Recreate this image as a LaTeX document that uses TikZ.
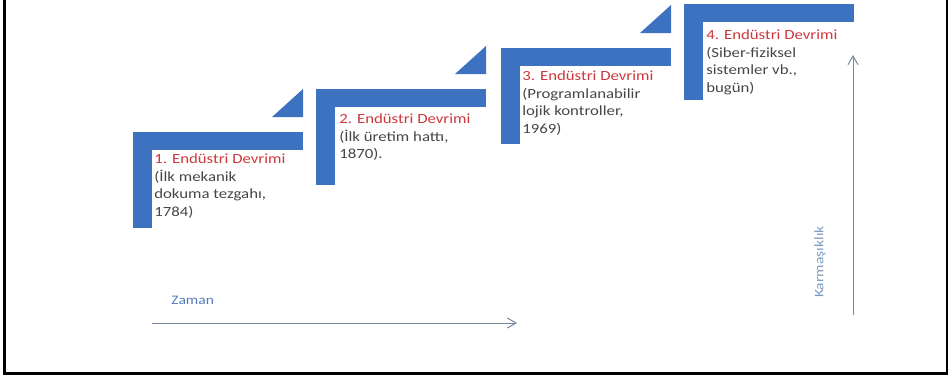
\documentclass[tikz,border=0pt]{standalone}
\usepackage{fontspec}
\setmainfont{Carlito}
\newfontfamily\stepfont[FakeStretch=1.2]{Carlito}
\usepackage{xcolor}
\definecolor{stepblue}{RGB}{60,114,192}
\definecolor{titlered}{RGB}{205,55,60}
\definecolor{notegray}{RGB}{70,70,70}
\definecolor{axisgray}{RGB}{115,135,160}
\definecolor{labelblue}{RGB}{85,122,190}
\definecolor{labelpale}{RGB}{125,155,198}
\usetikzlibrary{arrows.meta}
\tikzset{
  %% stair pieces
  stairbar/.style={fill=stepblue, draw=none},
  %% texts under each stair
  stepnote/.style={anchor=north west, inner sep=0pt, align=left,
    font=\stepfont\fontsize{10.5}{13.1}\selectfont, text=notegray},
  axislabel/.style={inner sep=0pt, font=\stepfont\fontsize{9.75}{11}\selectfont},
  axisarrow/.style={draw=axisgray, line width=0.75pt,
    -{Straight Barb[length=6.5pt,width=7.5pt]}},
}
\newcommand\revtitle[1]{{\color{titlered}#1}}

\begin{document}
\begin{tikzpicture}[x=0.75pt,y=-0.75pt]
\useasboundingbox (0,0) rectangle (949,380);
%% frame, open at the top
\draw[line width=1.9pt] (4.5,0) -- (4.5,373.5) -- (947,373.5) -- (947,0);
%% stairs
\foreach \xo/\yo in {133/132, 316/89, 501/48, 684/4}{
  \fill[stairbar] (\xo,\yo) rectangle ++(170,18);
  \fill[stairbar] (\xo,\yo) rectangle ++(19,96);
}
\foreach \xo/\yo in {133/132, 316/89, 501/48}{
  \fill[stairbar] (\xo+139,\yo-15) -- (\xo+170,\yo-15) -- (\xo+170,\yo-43) -- cycle;
}
%% revolutions
\node[stepnote] (rev1) at (154,154)
  {\revtitle{1. Endüstri Devrimi}\\(İlk mekanik\\dokuma tezgahı,\\1784)};
\node[stepnote] (rev2) at (339,114)
  {\revtitle{2. Endüstri Devrimi}\\(İlk üretim hattı,\\1870).};
\node[stepnote] (rev3) at (522,71)
  {\revtitle{3. Endüstri Devrimi}\\(Programlanabilir\\lojik kontroller,\\1969)};
\node[stepnote] (rev4) at (706,30)
  {\revtitle{4. Endüstri Devrimi}\\(Siber-fiziksel\\sistemler vb.,\\bugün)};
%% axes
\coordinate (zamanstart) at (152,323);
\coordinate (zamanend) at (517,323);
\draw[axisarrow] (zamanstart) -- (zamanend);
\node[axislabel, text=labelblue, anchor=west] (zaman) at (171,300) {Zaman};
\coordinate (karmastart) at (853,315);
\coordinate (karmaend) at (853,55);
\draw[axisarrow] (karmastart) -- (karmaend);
\node[axislabel, text=labelpale, rotate=90] (karma) at (820,262) {Karmaşıklık};
\end{tikzpicture}
\end{document}
